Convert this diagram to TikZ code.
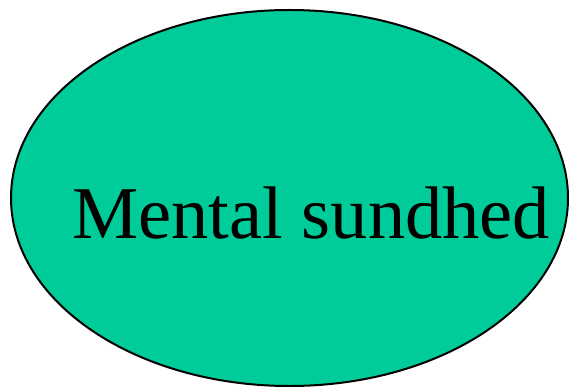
\documentclass[tikz,border=0pt]{standalone}
\usepackage{fontspec}
\setmainfont{Liberation Serif}
\usetikzlibrary{shapes.geometric}
\definecolor{mint}{HTML}{00CC99}
\tikzset{
  blob/.style={ellipse, draw=black, line width=2pt, fill=mint, inner sep=0pt},
  bigtext/.style={font=\fontsize{74.5}{80}\selectfont, inner sep=0pt, anchor=base west}
}
\begin{document}
\begin{tikzpicture}[x=1pt,y=1pt]
\useasboundingbox (0,0) rectangle (569,386);
\node[blob, minimum width=557pt, minimum height=376pt] (e) at (289.5,188) {};
\node[bigtext] (t) at (72,148) {Mental sundhed};
\end{tikzpicture}
\end{document}
